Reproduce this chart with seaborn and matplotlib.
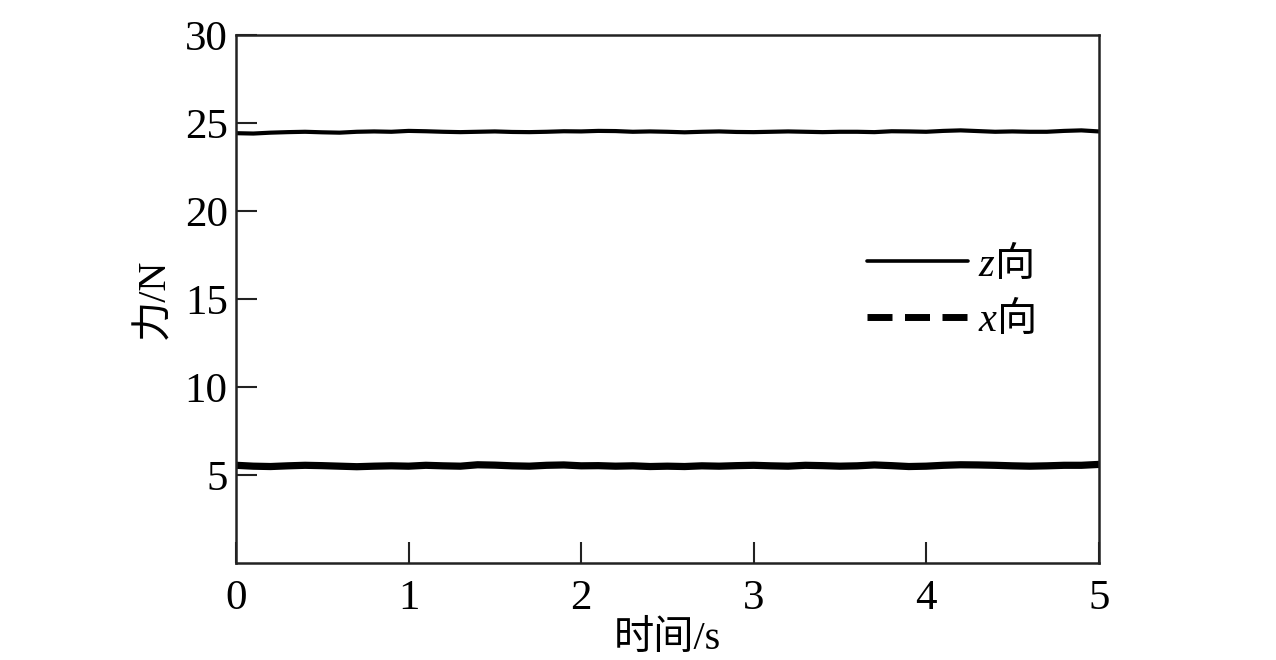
import matplotlib
matplotlib.use("Agg")
import matplotlib.pyplot as plt
import pandas as pd
import seaborn as sns
from matplotlib.lines import Line2D

# Data (time in s, force in N)
time_s = [i / 10 for i in range(51)]
force_z = [24.42, 24.40, 24.45, 24.48, 24.50, 24.47, 24.45, 24.50, 24.52, 24.50,
           24.55, 24.53, 24.50, 24.48, 24.50, 24.52, 24.49, 24.48, 24.50, 24.53,
           24.52, 24.55, 24.54, 24.50, 24.52, 24.50, 24.47, 24.50, 24.52, 24.49,
           24.48, 24.50, 24.52, 24.50, 24.48, 24.50, 24.50, 24.48, 24.53, 24.52,
           24.50, 24.55, 24.58, 24.54, 24.50, 24.52, 24.50, 24.50, 24.55, 24.58,
           24.52]
force_x = [5.55, 5.50, 5.48, 5.52, 5.55, 5.53, 5.50, 5.47, 5.50, 5.52,
           5.50, 5.55, 5.52, 5.50, 5.58, 5.56, 5.52, 5.50, 5.55, 5.57,
           5.52, 5.53, 5.50, 5.52, 5.48, 5.50, 5.48, 5.52, 5.50, 5.53,
           5.55, 5.52, 5.50, 5.55, 5.53, 5.50, 5.52, 5.57, 5.53, 5.48,
           5.50, 5.55, 5.58, 5.57, 5.55, 5.52, 5.50, 5.52, 5.55, 5.55,
           5.60]
series_labels = ["$z$向", "$x$向"]
x_ticks = [0, 1, 2, 3, 4, 5]
y_ticks = [5, 10, 15, 20, 25, 30]

df = pd.DataFrame({"time": time_s, "z": force_z, "x": force_x})

sns.set_style("ticks")
plt.rcParams["font.family"] = ["Liberation Serif", "Noto Sans CJK SC"]
plt.rcParams["mathtext.fontset"] = "custom"
plt.rcParams["mathtext.it"] = "Liberation Serif:italic"
plt.rcParams["mathtext.rm"] = "Liberation Serif"
plt.rcParams["text.color"] = "black"
plt.rcParams["axes.labelcolor"] = "black"
plt.rcParams["xtick.labelcolor"] = "black"
plt.rcParams["ytick.labelcolor"] = "black"

fig, ax = plt.subplots(figsize=(12.76, 6.6), dpi=100)
fig.subplots_adjust(left=0.185, right=0.861, top=0.947, bottom=0.147)

sns.lineplot(data=df, x="time", y="z", ax=ax, color="black", linewidth=3)
sns.lineplot(data=df, x="time", y="x", ax=ax, color="black", linewidth=5.2)

ax.set_xlim(0, 5)
ax.set_ylim(0, 30)
ax.set_xticks(x_ticks)
ax.set_yticks(y_ticks)
ax.tick_params(direction="in", length=15, width=1.5, labelsize=31, color="#222222")
ax.tick_params(axis="x", pad=12)
ax.tick_params(axis="y", pad=6)
for s in ax.spines.values():
    s.set_linewidth(1.8)
    s.set_color("#222222")

ax.set_xlabel("时间/s", fontsize=29, labelpad=2)
ax.set_ylabel("力/N", fontsize=29, labelpad=8)

handles = [Line2D([], [], color="black", linewidth=2.6, linestyle="-"),
           Line2D([], [], color="black", linewidth=5, linestyle=(0, (3.6, 1.8)))]
ax.legend(handles, series_labels, loc="center left", bbox_to_anchor=(0.69, 0.514),
          frameon=False, handlelength=2.5, handletextpad=0.25, labelspacing=0.35,
          prop={"family": "Noto Sans CJK SC", "size": 29})

fig.savefig("out.png", dpi=100)
